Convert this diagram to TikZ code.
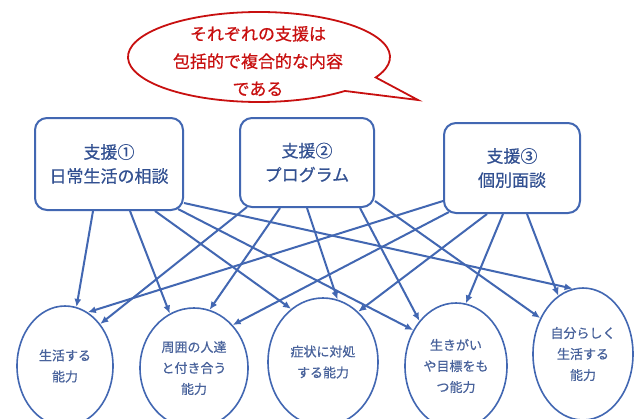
\documentclass[tikz,border=0pt]{standalone}
\usepackage{fontspec}
\setmainfont{Noto Sans CJK JP}[FakeBold=0.6]
\usetikzlibrary{shapes.geometric,arrows.meta}
\definecolor{lineblue}{RGB}{66,103,178}
\definecolor{textblue}{RGB}{50,80,145}
\definecolor{softblue}{RGB}{72,98,155}
\definecolor{bubblered}{RGB}{200,16,16}
\newcommand\shienfont{\fontsize{17pt}{24pt}\selectfont}
\newcommand\nouryokufont{\fontsize{13pt}{21pt}\selectfont}
\newcommand\fukifont{\fontsize{17pt}{27.5pt}\selectfont}

\begin{document}
\begin{tikzpicture}[x=1pt,y=1pt]
\tikzstyle{shien}=[draw=lineblue,line width=2pt,rounded corners=12pt,align=center,text=textblue,font=\shienfont,inner sep=0pt]
\tikzstyle{nouryoku}=[ellipse,draw=lineblue,line width=1.6pt,align=center,text=softblue,font=\nouryokufont,inner sep=0pt]
\tikzstyle{link}=[draw=lineblue,line width=2pt,-{Latex[length=8pt,width=7pt]}]
\clip (0,0) rectangle (635,-418);
\fill[white] (0,0) rectangle (635,-418);
% speech bubble
\draw[bubblered,line width=1.8pt,fill=white] (259,-57) ++(-27:131 and 45) arc[start angle=-27,end angle=311,x radius=131,y radius=45] -- (418,-100) -- cycle;
\node[font=\fukifont,text=bubblered,align=center] (msg) at (258,-61) {それぞれの支援は\\包括的で複合的な内容\\である};
% supports
\node[shien,minimum width=148pt,minimum height=92pt] (b1) at (109,-164) {支援①\\日常生活の相談};
\node[shien,minimum width=134pt,minimum height=89pt] (b2) at (307,-162.5) {支援②\\プログラム};
\node[shien,minimum width=136pt,minimum height=90pt] (b3) at (512,-168) {支援③\\個別面談};
% abilities
\node[nouryoku,minimum width=96pt,minimum height=120pt] (c1) at (65,-366) {生活する\\能力};
\node[nouryoku,minimum width=108pt,minimum height=120pt] (c2) at (194,-368) {周囲の人達\\と付き合う\\能力};
\node[nouryoku,minimum width=110pt,minimum height=128pt] (c3) at (323,-362) {症状に対処\\する能力};
\node[nouryoku,minimum width=102pt,minimum height=126pt] (c4) at (456,-366) {生きがい\\や目標をも\\つ能力};
\node[nouryoku,minimum width=100pt,minimum height=132pt] (c5) at (583,-354) {自分らしく\\生活する\\能力};
% links
\draw[link] ([xshift=-16pt]b1.south) -- (c1.79);
\draw[link] ([xshift=21pt]b1.south) -- (c2.114);
\draw[link] ([xshift=46pt]b1.south) -- (c3.121);
\draw[link] ([xshift=-6pt,yshift=2pt]b1.south east) -- (c4.140);
\draw[link] ([yshift=8pt]b1.south east) -- (c5.99);
\draw[link] ([xshift=8pt,yshift=1pt]b2.south west) -- (c1.50);
\draw[link] ([xshift=-27pt]b2.south) -- (c2.75);
\draw[link] (b2.south) -- (c3.77);
\draw[link] ([xshift=53pt]b2.south) -- (c4.129);
\draw[link] ([yshift=7pt]b2.south east) -- (c5.140);
\draw[link] ([yshift=13pt]b3.south west) -- (c1.67);
\draw[link] ([xshift=6pt,yshift=2pt]b3.south west) -- (c2.48);
\draw[link] ([xshift=-25pt]b3.south) -- (c3.55);
\draw[link] ([xshift=-9pt]b3.south) -- (c4.81);
\draw[link] ([xshift=15pt]b3.south) -- (c5.113);
\end{tikzpicture}
\end{document}
